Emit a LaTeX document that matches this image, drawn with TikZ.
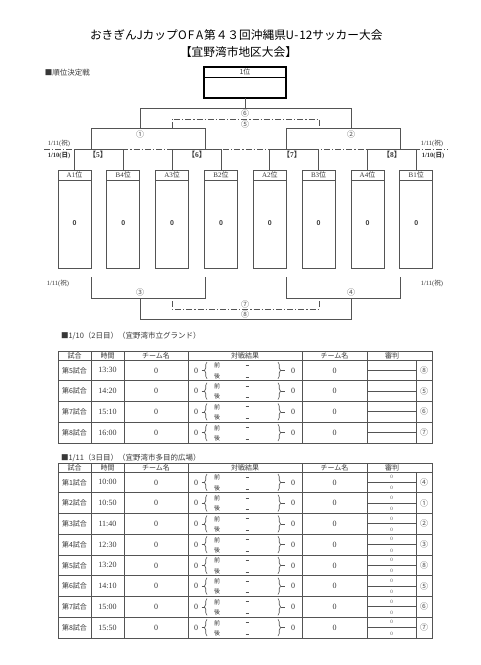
\documentclass[tikz,border=0pt]{standalone}
\usepackage{fontspec}
\setmainfont{Liberation Serif}
\setsansfont{Liberation Sans}
\newfontfamily\cjk{Noto Sans CJK JP}
\usetikzlibrary{decorations.pathreplacing}
\definecolor{ln}{gray}{0.33}
\definecolor{tx}{gray}{0.22}
\tikzset{
  every node/.style={inner sep=0pt, outer sep=0pt, text=tx},
  brk/.style={draw=ln, line width=0.8pt},
  dd/.style={draw=ln, line width=0.8pt, dash pattern=on 6pt off 2pt on 1.2pt off 2pt},
  grid/.style={draw=ln, line width=0.8pt},
  circ/.style={font=\cjk\fontsize{8}{9}\selectfont, text=ln},
  jp7/.style={font=\cjk\fontsize{7}{8}\selectfont},
  jp8/.style={font=\cjk\fontsize{7.5}{9}\selectfont},
  num8/.style={font=\fontsize{8}{9}\selectfont},
  small/.style={font=\fontsize{6.5}{7}\selectfont},
  smallb/.style={font=\bfseries\fontsize{6.5}{7}\selectfont},
  pairlbl/.style={font=\bfseries\fontsize{7.5}{8}\selectfont},
  tiny/.style={font=\fontsize{5}{6}\selectfont, text=ln},
  titlech/.style={font=\cjk\fontsize{11.7}{13}\selectfont, text=black, anchor=base},
  lbrace/.style={draw=ln, line width=0.6pt, decorate, decoration={brace, amplitude=2.5pt}},
}
\newcommand\gamerow[5]{%
  \pgfmathsetmacro\gRt{#1}\pgfmathsetmacro\gRb{#1+20.75}\pgfmathsetmacro\gRm{#1+10.375}%
  \node[jp7] (#5n#2) at (74.5,\gRm) {第#2試合};
  \node[num8] (#5t#2) at (107.5,\gRm) {#3};
  \node[num8] (#5a#2) at (156,\gRm) {0};
  \node[num8] (#5s#2) at (196,\gRm) {0};
  \draw[ln, line width=0.6pt] (201.5,\gRm) -- (204.5,\gRm);
  \draw[lbrace] (207,{\gRb-2}) -- (207,{\gRt+2});
  \node[font=\cjk\fontsize{6}{7}\selectfont] (#5f#2) at (217,{\gRt+5.5}) {前};
  \node[font=\cjk\fontsize{6}{7}\selectfont] (#5l#2) at (217,{\gRb-5}) {後};
  \draw[ln, line width=0.5pt] (245.5,{\gRt+5}) -- (248.5,{\gRt+5});
  \draw[ln, line width=0.5pt] (245.5,{\gRb-4}) -- (248.5,{\gRb-4});
  \draw[lbrace] (278,{\gRt+2}) -- (278,{\gRb-2});
  \draw[ln, line width=0.6pt] (280.5,\gRm) -- (284.5,\gRm);
  \node[num8] (#5r#2) at (293,\gRm) {0};
  \node[num8] (#5b#2) at (334.5,\gRm) {0};
  \draw[grid] (367,\gRm) -- (416,\gRm);
  \node[circ] (#5c#2) at (424,\gRm) {#4};
  \draw[grid] (58,\gRb) -- (432,\gRb);
}
\newcommand\refzeros[3]{%
  \pgfmathsetmacro\gRt{#1}\pgfmathsetmacro\gRb{#1+20.75}%
  \node[tiny] (#2u#3) at (391.5,{\gRt+5}) {0};
  \node[tiny] (#2d#3) at (391.5,{\gRb-4.5}) {0};
}
\newcommand\tablehead[3]{%
  \pgfmathsetmacro\gHm{#1+4.5}%
  \draw[grid] (58,#1) rectangle (432,#2);
  \draw[grid] (58,{#1+9}) -- (432,{#1+9});
  \foreach \cx in {91,124,188,302,367} {\draw[grid] (\cx,#1) -- (\cx,#2);}
  \draw[grid] (416,{#1+9}) -- (416,#2);
  \node[jp7] (#3h1) at (74.5,\gHm) {試合};
  \node[jp7] (#3h2) at (107.5,\gHm) {時間};
  \node[jp7] (#3h3) at (156,\gHm) {チーム名};
  \node[jp7] (#3h4) at (245,\gHm) {対戦結果};
  \node[jp7] (#3h5) at (334.5,\gHm) {チーム名};
  \node[jp7] (#3h6) at (392,\gHm) {審判};
}
\begin{document}
\begin{tikzpicture}[x=1pt,y=-1pt]
\useasboundingbox[fill=white] (0,0) rectangle (481,665);

% title, characters placed on a grid (full width 11.7pt)
\xdef\gTx{90}
\foreach \c/\w [count=\i] in {お/1,き/1,ぎ/1,ん/1,J/0.5,カ/1,ッ/1,プ/1,O/0.8,F/0.7,A/0.75,第/1,４/1,３/1,回/1,沖/1,縄/1,県/1,U/0.65,-/0.5,1/0.55,2/0.55,サ/1,ッ/1,カ/1,ー/1,大/1,会/1} {
  \pgfmathsetmacro\gCx{\gTx+\w*5.85}
  \node[titlech] (ta\i) at (\gCx,39.5) {\c};
  \pgfmathsetmacro\gNx{\gTx+\w*11.7}
  \xdef\gTx{\gNx}
}
\foreach \c [count=\i] in {【,宜,野,湾,市,地,区,大,会,】} {
  \pgfmathsetmacro\gCx{180+(\i-0.5)*11.7}
  \node[titlech] (tb\i) at (\gCx,56.5) {\c};
}
\node[jp8, anchor=west] (sec0) at (45,73) {■順位決定戦};

% winner box
\draw[line width=1.4pt] (204,67) rectangle (286,98);
\draw[line width=1pt] (204,77) -- (286,77);
\node[jp7] (first) at (245,72) {1位};

% upper bracket
\draw[brk] (245,98) -- (245,108);
\draw[brk] (140,128) -- (140,108) -- (351,108) -- (351,128);
\node[circ] (c6) at (245,113.5) {⑥};
\draw[dd] (172,128) -- (172,119) -- (319,119) -- (319,128);
\node[circ] (c5) at (245,124) {⑤};
\draw[brk] (91,149) -- (91,128) -- (205,128) -- (205,149);
\node[circ] (c1) at (140,134) {①};
\draw[brk] (286,149) -- (286,128) -- (400,128) -- (400,149);
\node[circ] (c2) at (351,134) {②};

% date divider
\draw[dd, line width=0.7pt] (44,149) -- (448,149);
\foreach \a/\b in {74.5/123.3,172.2/221,269.8/318.7,367.5/416.3} {\draw[brk] (\a,149) -- (\b,149);}
\node[small] (d1) at (59,143) {1/11({\cjk 祝})};
\node[smallb] (d2) at (59,155.5) {1/10({\cjk 日})};
\node[small] (d3) at (432,143.5) {1/11({\cjk 祝})};
\node[smallb] (d4) at (433,155.5) {1/10({\cjk 日})};
\node[pairlbl] (k5) at (98,155) {{\cjk 【}5{\cjk 】}};
\node[pairlbl] (k6) at (197,155) {{\cjk 【}6{\cjk 】}};
\node[pairlbl] (k7) at (292,155) {{\cjk 【}7{\cjk 】}};
\node[pairlbl] (k8) at (392,155) {{\cjk 【}8{\cjk 】}};

% team boxes
\foreach \lab [count=\i from 0] in {A1,B4,A3,B2,A2,B3,A4,B1} {
  \pgfmathsetmacro\bx{58+48.83*\i}
  \pgfmathsetmacro\bc{\bx+16.5}
  \draw[brk] (\bc,149) -- (\bc,170);
  \draw[grid] (\bx,170) rectangle ({\bx+33},268);
  \draw[grid] (\bx,180) -- ({\bx+33},180);
  \node[font=\fontsize{7}{8}\selectfont] (h\lab) at (\bc,175) {\lab{\cjk 位}};
  \node[font=\sffamily\bfseries\fontsize{7}{8}\selectfont] (z\lab) at (\bc,223) {0};
}

% lower bracket
\node[small] (d5) at (58,283) {1/11({\cjk 祝})};
\node[small] (d6) at (432,283) {1/11({\cjk 祝})};
\draw[brk] (91,277) -- (91,298) -- (205,298) -- (205,277);
\node[circ] (c3) at (140,292.5) {③};
\draw[brk] (286,277) -- (286,298) -- (400,298) -- (400,277);
\node[circ] (c4) at (351,292.5) {④};
\draw[brk] (140,298) -- (140,319) -- (351,319) -- (351,298);
\node[circ] (c8) at (245,314) {⑧};
\draw[dd] (172,301) -- (172,309) -- (319,309) -- (319,301);
\node[circ] (c7) at (245,304) {⑦};

% table 1
\node[jp8, anchor=west] (sec1) at (61,336) {■1/10（2日目）（宜野湾市立グランド）};
\tablehead{351}{443}{a}
\foreach \n/\tm/\cc [count=\i from 0] in {5/13:30/⑧,6/14:20/⑤,7/15:10/⑥,8/16:00/⑦} {
  \pgfmathsetmacro\tp{360+20.75*\i}
  \gamerow{\tp}{\n}{\tm}{\cc}{a}
}

% table 2
\node[jp8, anchor=west] (sec2) at (61,457.5) {■1/11（3日目）（宜野湾市多目的広場）};
\tablehead{463}{638}{b}
\foreach \n/\tm/\cc [count=\i from 0] in {1/10:00/④,2/10:50/①,3/11:40/②,4/12:30/③,5/13:20/⑧,6/14:10/⑤,7/15:00/⑥,8/15:50/⑦} {
  \pgfmathsetmacro\tp{472+20.75*\i}
  \gamerow{\tp}{\n}{\tm}{\cc}{b}
  \refzeros{\tp}{b}{\n}
}
\end{tikzpicture}
\end{document}
